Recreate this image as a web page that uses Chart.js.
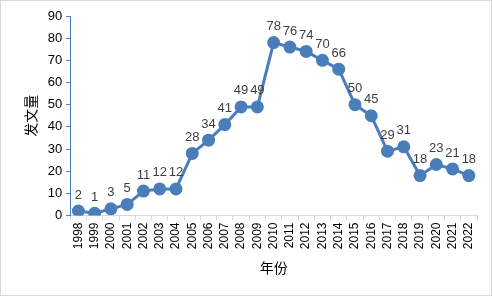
<!DOCTYPE html>
<html>
<head>
<meta charset="utf-8">
<script src="https://cdn.jsdelivr.net/npm/chart.js@4/dist/chart.umd.min.js"></script>
<style>
  html, body { margin: 0; padding: 0; background: #fff; }
  #wrap { width: 492px; height: 296px; position: relative; }
</style>
</head>
<body>
<div id="wrap"><canvas id="pubChart" width="492" height="296"></canvas></div>
<script>
// Data
const years = ['1998','1999','2000','2001','2002','2003','2004','2005','2006','2007','2008','2009',
               '2010','2011','2012','2013','2014','2015','2016','2017','2018','2019','2020','2021','2022'];
const counts = [2, 1, 3, 5, 11, 12, 12, 28, 34, 41, 49, 49, 78, 76, 74, 70, 66, 50, 45, 29, 31, 18, 23, 21, 18];
const yTicks = [0, 10, 20, 30, 40, 50, 60, 70, 80, 90];

const lineColor = '#4a7ebb';
const textColor = '#404040';

// Value labels above each point
const valueLabels = {
    id: 'valueLabels',
    afterDatasetsDraw(chart) {
        const ctx = chart.ctx;
        const meta = chart.getDatasetMeta(0);
        ctx.save();
        ctx.font = '13px "Liberation Sans", Arial, sans-serif';
        ctx.fillStyle = textColor;
        ctx.textAlign = 'center';
        ctx.textBaseline = 'middle';
        meta.data.forEach((pt, i) => {
            ctx.fillText(String(counts[i]), pt.x, pt.y - 16);
        });
        ctx.restore();
    }
};

// Light gray frame around the whole chart
const frame = {
    id: 'frame',
    afterDraw(chart) {
        const ctx = chart.ctx;
        ctx.save();
        ctx.strokeStyle = '#d9d9d9';
        ctx.lineWidth = 1;
        ctx.strokeRect(0.5, 0.5, chart.width - 1, chart.height - 1);
        ctx.restore();
    }
};

new Chart(document.getElementById('pubChart'), {
    type: 'line',
    data: {
        labels: years,
        datasets: [{
            data: counts,
            borderColor: lineColor,
            backgroundColor: lineColor,
            borderWidth: 3,
            pointRadius: 5,
            pointBackgroundColor: lineColor,
            pointBorderColor: lineColor,
            tension: 0,
            fill: false
        }]
    },
    options: {
        responsive: false,
        animation: false,
        layout: { padding: { top: 16, right: 15, bottom: 20, left: 22 } },
        plugins: {
            legend: { display: false },
            tooltip: { enabled: false }
        },
        scales: {
            x: {
                offset: true,
                grid: {
                    display: true,
                    offset: true,
                    drawOnChartArea: false,
                    drawTicks: true,
                    tickLength: 5,
                    color: '#d9d9d9'
                },
                border: { color: '#d9d9d9', width: 1 },
                ticks: {
                    autoSkip: false,
                    maxRotation: 90,
                    minRotation: 90,
                    color: '#000',
                    padding: 2,
                    font: { family: '"Liberation Sans", Arial, sans-serif', size: 12 }
                },
                title: {
                    display: true,
                    text: '年份',
                    color: '#000',
                    padding: { top: 8, bottom: 0 },
                    font: { family: '"Noto Sans CJK SC", sans-serif', size: 14 }
                }
            },
            y: {
                min: 0,
                max: 90,
                afterBuildTicks(scale) {
                    scale.ticks = yTicks.map(v => ({ value: v }));
                },
                grid: {
                    display: true,
                    drawOnChartArea: false,
                    drawTicks: true,
                    tickLength: 4,
                    color: lineColor
                },
                border: { color: lineColor, width: 1 },
                ticks: {
                    color: '#000',
                    padding: 4,
                    font: { family: '"Liberation Sans", Arial, sans-serif', size: 13 }
                },
                title: {
                    display: true,
                    text: '发文量',
                    color: '#000',
                    padding: { top: 0, bottom: 5 },
                    font: { family: '"Noto Sans CJK SC", sans-serif', size: 14 }
                }
            }
        }
    },
    plugins: [valueLabels, frame]
});
</script>
</body>
</html>
